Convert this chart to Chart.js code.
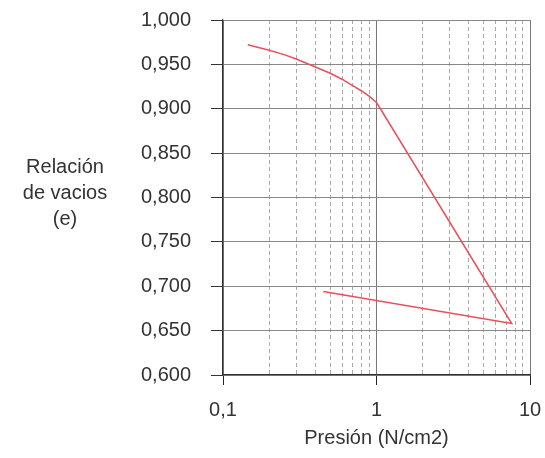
<!DOCTYPE html>
<html>
<head>
<meta charset="utf-8">
<script src="https://cdn.jsdelivr.net/npm/chart.js@4"></script>
<style>
  html, body { margin: 0; padding: 0; background: #fff; }
  #wrap { width: 545px; height: 458px; }
</style>
</head>
<body>
<div id="wrap"><canvas id="chart" width="545" height="458"></canvas></div>
<script>
// Curva de compresibilidad (e vs log p)
const presion = [0.145, 0.2, 0.25, 0.3, 0.4, 0.5, 0.6, 0.7, 0.8, 0.9, 1.0, 1.06, 7.6, 0.45];
const relacionVacios = [0.972, 0.966, 0.961, 0.956, 0.947, 0.940, 0.933, 0.926, 0.920, 0.914, 0.907, 0.900, 0.658, 0.694];

const majorTicks = [0.1, 1, 10];
const minorTicks = [0.2, 0.3, 0.4, 0.5, 0.6, 0.7, 0.8, 0.9, 2, 3, 4, 5, 6, 7, 8, 9];
const xLabels = { 0.1: '0,1', 1: '1', 10: '10' };
const yTitle = ['Relación', 'de vacios', '(e)'];
const xTitle = 'Presión (N/cm2)';

const FONT = "'Liberation Sans', Arial, sans-serif";

// y-axis title is horizontal, so draw it ourselves
const yTitlePlugin = {
    id: 'yTitle',
    afterDraw(chart) {
        const ctx = chart.ctx;
        ctx.save();
        ctx.font = '20px ' + FONT;
        ctx.fillStyle = '#333';
        ctx.textAlign = 'center';
        ctx.textBaseline = 'middle';
        yTitle.forEach((t, i) => ctx.fillText(t, 65, 167 + i * 26));
        ctx.restore();
    }
};

const points = presion.map((p, i) => ({ x: p, y: relacionVacios[i] }));

new Chart(document.getElementById('chart'), {
    type: 'scatter',
    data: {
        datasets: [{
            data: points,
            showLine: true,
            borderColor: 'rgb(232, 80, 92)',
            borderWidth: 1.5,
            pointRadius: 0,
            tension: 0
        }]
    },
    options: {
        responsive: false,
        animation: false,
        layout: { padding: { top: 20, right: 15, left: 0, bottom: 4 } },
        plugins: { legend: { display: false }, tooltip: { enabled: false } },
        scales: {
            x: {
                type: 'logarithmic',
                min: 0.1,
                max: 10,
                afterBuildTicks: s => { s.ticks = majorTicks.map(v => ({ value: v })); },
                afterFit: s => { s.height = 79; s.paddingLeft = 0; s.paddingRight = 0; },
                ticks: {
                    autoSkip: false,
                    maxRotation: 0,
                    padding: 13,
                    color: '#333',
                    font: { family: FONT, size: 20 },
                    callback: v => xLabels[v] || ''
                },
                grid: { color: '#777', lineWidth: 1, tickLength: 10, tickColor: '#222' },
                border: { color: '#333', width: 1.2 },
                title: {
                    display: true,
                    text: xTitle,
                    color: '#333',
                    font: { family: FONT, size: 20 },
                    padding: { top: 5 }
                }
            },
            x2: {
                type: 'logarithmic',
                position: 'bottom',
                min: 0.1,
                max: 10,
                afterBuildTicks: s => { s.ticks = minorTicks.map(v => ({ value: v })); },
                afterFit: s => { s.height = 0; s.paddingLeft = 0; s.paddingRight = 0; },
                ticks: { display: false },
                grid: { color: '#aaa', lineWidth: 1, drawTicks: false },
                border: { display: false, dash: [4, 3] }
            },
            y: {
                min: 0.6,
                max: 1.0,
                afterFit: s => { s.width = 223; s.paddingTop = 0; s.paddingBottom = 0; },
                ticks: {
                    stepSize: 0.05,
                    padding: 20,
                    color: '#333',
                    font: { family: FONT, size: 20 },
                    callback: v => v.toFixed(3).replace('.', ',')
                },
                grid: { color: '#888', lineWidth: 1, tickLength: 12, tickColor: '#333' },
                border: { color: '#333', width: 1.2 }
            }
        }
    },
    plugins: [yTitlePlugin]
});
</script>
</body>
</html>
